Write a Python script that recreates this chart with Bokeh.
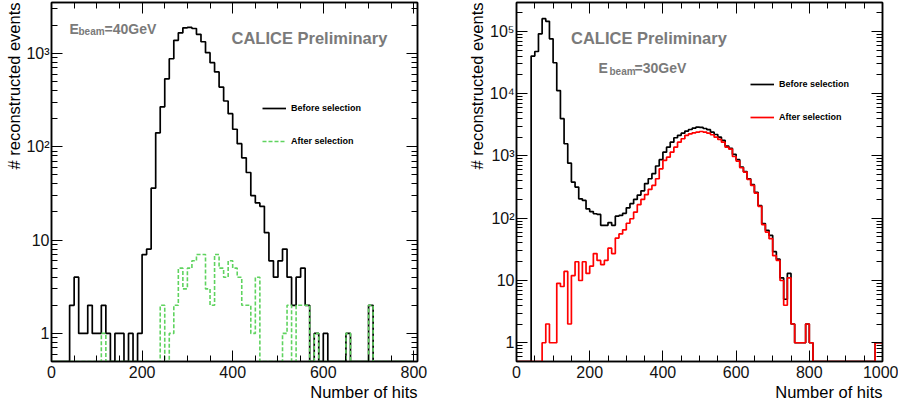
import math
from bokeh.plotting import figure
from bokeh.layouts import row
from bokeh.models import (Range1d, FixedTicker, LinearAxis, LogAxis, Label, Title,
                          Legend, LegendItem, ColumnDataSource)
from bokeh.embed import file_html
from bokeh.resources import INLINE

# ---------------- data (bin width 10 hits) ----------------
BIN = 10

# left panel: E_beam = 40 GeV, bins 0..790
left_before = [0, 0, 0, 0, 2, 4, 1, 1, 2, 1,
               1, 2, 1, 0, 1, 1, 0, 1, 0, 1,
               7, 8, 36, 141, 268, 534, 877, 1380, 1663, 1880,
               1900, 1850, 1600, 1334, 1018, 795, 633, 436, 309, 226,
               154, 108, 76, 53, 30, 25, 23, 12, 6, 4,
               6, 8, 4, 2, 4, 5, 2, 0, 1, 0,
               1, 0, 0, 0, 0, 1, 0, 0, 0, 0,
               2, 0, 0, 0, 0, 0, 0, 0, 0, 0]
left_after = [0, 0, 0, 0, 0, 0, 0, 0, 0, 0,
              0, 1, 0, 0, 0, 0, 0, 0, 0, 0,
              0, 0, 0, 0, 2, 0, 1, 2, 5, 3,
              5, 6, 7, 7, 3, 2, 7, 5, 4, 6,
              5, 4, 2, 2, 1, 4, 0, 0, 0, 0,
              0, 1, 2, 0, 2, 2, 2, 0, 1, 0,
              0, 0, 0, 0, 0, 1, 0, 0, 0, 0,
              2, 0, 0, 0, 0, 0, 0, 0, 0, 0]

# right panel: E_beam = 30 GeV, bins 0..990
right_before = [0, 0, 0, 0, 40100, 47600, 91600, 160000, 145000, 76000,
                31400, 11200, 3970, 1570, 766, 380, 316, 205, 193, 141,
                128, 118, 115, 77, 77, 85, 77, 108, 111, 120,
                147, 171, 200, 235, 275, 360, 430, 520, 690, 870,
                1150, 1385, 1665, 1960, 2140, 2320, 2510, 2660, 2790, 2900,
                2870, 2760, 2640, 2410, 2210, 2000, 1780, 1440, 1330, 1060,
                870, 665, 560, 430, 345, 260, 160, 82, 64, 53,
                29, 22, 11, 5, 13, 2, 1, 1, 1, 2,
                1, 0, 0, 0, 0, 0, 0, 0, 0, 0,
                0, 0, 0, 0, 0, 0, 0, 0, 1, 1]
right_after = [0, 0, 0, 0, 0, 0, 0, 1, 2, 1,
               1, 9, 8, 14, 2, 12, 20, 10, 20, 13,
               17, 27, 21, 18, 21, 33, 27, 48, 56, 65,
               83, 98, 125, 165, 200, 240, 290, 336, 430, 620,
               847, 957, 1150, 1385, 1665, 1890, 2140, 2270, 2355, 2410,
               2470, 2410, 2323, 2190, 2000, 1840, 1665, 1385, 1290, 980,
               826, 646, 550, 420, 336, 252, 155, 79, 60, 47,
               25, 21, 10, 4, 11, 2, 1, 1, 1, 2,
               1, 0, 0, 0, 0, 0, 0, 0, 0, 0,
               0, 0, 0, 0, 0, 0, 0, 0, 1, 1]

left_xticks = [0, 200, 400, 600, 800]
right_xticks = [0, 200, 400, 600, 800, 1000]
left_yticks = [1, 10, 100, 1000]
left_ylabels = ["1", "10", "10²", "10³"]
right_yticks = [1, 10, 100, 1000, 10000, 100000]
right_ylabels = ["1", "10", "10²", "10³", "10⁴", "10⁵"]

legend_labels = ["Before selection", "After selection"]
x_title = "Number of hits"
y_title = "# reconstructed events"

# ---------------- layout constants ----------------
FONT = "Liberation Sans"
YMIN = 0.5
FRAME_W, FRAME_H = 366, 359
TOP, BOTTOM = 2, 45
H = 406
GRAY = "#7a7a7a"


def step_source(values):
    xs = [i * BIN for i in range(len(values) + 1)]
    ys = [max(v, YMIN) for v in values] + [max(values[-1], YMIN)]
    return ColumnDataSource(dict(x=xs, y=ys))


def style_axis(ax, show_labels, standoff=3):
    ax.axis_line_color = "black"
    ax.axis_line_width = 1.5
    ax.major_tick_in = 11
    ax.major_tick_out = 0
    ax.minor_tick_in = 6
    ax.minor_tick_out = 0
    ax.major_tick_line_color = "black"
    ax.minor_tick_line_color = "black"
    ax.major_tick_line_width = 1
    ax.minor_tick_line_width = 1
    ax.major_label_text_font = FONT
    if show_labels:
        ax.major_label_text_font_size = "16px"
        ax.major_label_text_color = "#111111"
        ax.major_label_standoff = standoff
    else:
        ax.major_label_text_font_size = "1px"
        ax.major_label_text_color = None
        ax.major_label_standoff = 0


def make_panel(xmax, decade_px, xticks, yticks, ylabels, lb, rb):
    ymax = YMIN * 10 ** (FRAME_H / decade_px)
    p = figure(width=lb + FRAME_W + rb, height=H,
               x_range=Range1d(0, xmax), y_range=Range1d(YMIN, ymax),
               y_axis_type="log", output_backend="svg", toolbar_location=None,
               min_border_left=lb, min_border_right=rb,
               min_border_top=TOP, min_border_bottom=BOTTOM)
    p.grid.visible = False
    p.outline_line_color = "black"
    p.outline_line_width = 1.5
    p.background_fill_color = "white"
    p.border_fill_color = "white"

    xminor = list(range(0, int(xmax) + 1, 50))
    yminor = [m * 10 ** k for k in range(-1, 7) for m in range(2, 10)
              if YMIN < m * 10 ** k < ymax]
    xt = FixedTicker(ticks=xticks, minor_ticks=xminor)
    yt = FixedTicker(ticks=yticks, minor_ticks=yminor)

    p.xaxis.ticker = xt
    p.yaxis.ticker = yt
    p.yaxis.major_label_overrides = {t: s for t, s in zip(yticks, ylabels)}
    for ax in p.xaxis:
        style_axis(ax, True, standoff=4)
    for ax in p.yaxis:
        style_axis(ax, True, standoff=2)

    top = LinearAxis(ticker=xt)
    style_axis(top, False)
    p.add_layout(top, "above")
    right = LogAxis(ticker=yt)
    style_axis(right, False)
    p.add_layout(right, "right")

    # axis titles, aligned to the axis ends like ROOT
    p.add_layout(Title(text=x_title, align="right", text_font=FONT,
                       text_font_size="16.5px", text_font_style="normal",
                       text_color="black", offset=0, standoff=0), "below")
    p.add_layout(Title(text=y_title, align="right", text_font=FONT,
                       text_font_size="16.5px", text_font_style="normal",
                       text_color="black", offset=0, standoff=2), "left")

    fx = lambda px: (px - lb) * xmax / FRAME_W
    fy = lambda py: YMIN * 10 ** ((TOP + FRAME_H - py) / decade_px)
    return p, fx, fy, ymax


def add_text(p, x, y, text, size, bold=False, color="black",
             align="left", baseline="alphabetic", angle=0.0):
    p.add_layout(Label(x=x, y=y, text=text, text_font=FONT,
                       text_font_size=size,
                       text_font_style="bold" if bold else "normal",
                       text_color=color, text_align=align,
                       text_baseline=baseline, angle=angle))


def add_legend(p, renderers, vx, vy):
    items = [LegendItem(label=l, renderers=[r]) for l, r in zip(legend_labels, renderers)]
    leg = Legend(items=items, location=(vx, vy), padding=0, margin=0, spacing=13,
                 glyph_width=24, glyph_height=20, label_height=20, label_standoff=5,
                 label_text_font=FONT, label_text_font_size="9px",
                 label_text_font_style="bold", label_text_color="black",
                 background_fill_alpha=0, border_line_color=None)
    p.add_layout(leg)


# ---------------- left panel ----------------
LB1, RB1 = 51, 32
p1, fx1, fy1, ymax1 = make_panel(808, 93.33, left_xticks, left_yticks, left_ylabels, LB1, RB1)
r1b = p1.step(x="x", y="y", source=step_source(left_before), mode="after",
              line_color="black", line_width=1.7)
r1a = p1.step(x="x", y="y", source=step_source(left_after), mode="after",
              line_color="#5fd35f", line_width=1.6, line_dash="4 2")
add_legend(p1, [r1b, r1a], 211, 210)

add_text(p1, fx1(231), fy1(37.7), "CALICE Preliminary", "16.5px", bold=True, color=GRAY)
add_text(p1, fx1(69), fy1(28.3), "E", "14px", bold=True, color=GRAY)
add_text(p1, fx1(78), fy1(30.8), "beam", "10px", bold=True, color=GRAY)
add_text(p1, fx1(104), fy1(28.3), "=40GeV", "14px", bold=True, color=GRAY)

# ---------------- right panel ----------------
LB2, RB2 = 67, 16
OFF = 449
p2, fx2, fy2, ymax2 = make_panel(1000, 62.27, right_xticks, right_yticks, right_ylabels, LB2, RB2)
r2b = p2.step(x="x", y="y", source=step_source(right_before), mode="after",
              line_color="black", line_width=1.7)
r2a = p2.step(x="x", y="y", source=step_source(right_after), mode="after",
              line_color="#ff0000", line_width=1.7)
add_legend(p2, [r2b, r2a], 234, 234)

add_text(p2, fx2(570.5 - OFF), fy2(37.0), "CALICE Preliminary", "16.5px", bold=True, color=GRAY)
add_text(p2, fx2(598 - OFF), fy2(67.7), "E", "14px", bold=True, color=GRAY)
add_text(p2, fx2(609 - OFF), fy2(70.8), "beam", "10px", bold=True, color=GRAY)
add_text(p2, fx2(634 - OFF), fy2(67.7), "=30GeV", "14px", bold=True, color=GRAY)

layout = row(p1, p2, spacing=0)
open("out.html", "w").write(file_html(layout, INLINE))
